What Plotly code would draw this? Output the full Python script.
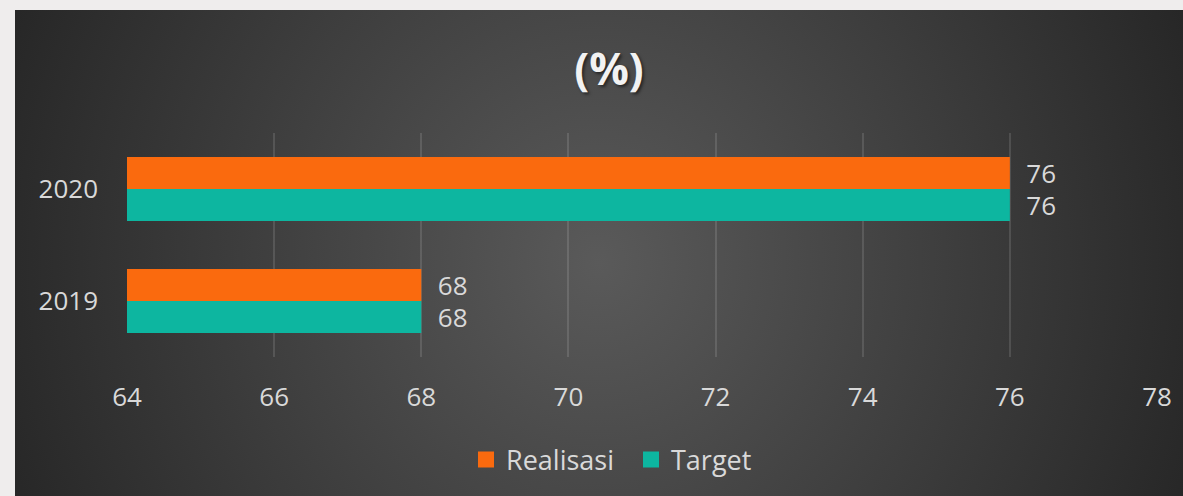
import base64
import plotly.graph_objects as go

years = ["2019", "2020"]
target = [68, 76]
realisasi = [68, 76]
x_ticks = [64, 66, 68, 70, 72, 74, 76, 78]

orange = "#fa6a0e"
teal = "#0db6a0"

# radial dark background, drawn as an svg image behind the plot
bg_svg = """<svg xmlns="http://www.w3.org/2000/svg" width="1168" height="486" viewBox="0 0 1 1" preserveAspectRatio="none">
<defs><radialGradient id="g" cx="0.5" cy="0.52" r="0.55"
 gradientTransform="translate(0.5 0.52) scale(1 2.5) translate(-0.5 -0.52)">
<stop offset="0" stop-color="#5a5a5a"/><stop offset="1" stop-color="#262626"/>
</radialGradient></defs>
<rect x="0" y="0" width="1" height="1" fill="url(#g)"/></svg>"""
bg_uri = "data:image/svg+xml;base64," + base64.b64encode(bg_svg.encode()).decode()

label_font = dict(family="Open Sans", size=26, color="#d9d9d9")

fig = go.Figure()

fig.add_trace(go.Bar(
    y=years,
    x=target,
    orientation="h",
    name="Target",
    showlegend=False,
    marker=dict(color=teal, line_width=0),
    texttemplate="\u00a0\u00a0%{x}",
    textposition="outside",
    constraintext="none",
    cliponaxis=False,
    textfont=label_font,
))

fig.add_trace(go.Bar(
    y=years,
    x=realisasi,
    orientation="h",
    name="Realisasi",
    showlegend=False,
    marker=dict(color=orange, line_width=0),
    texttemplate="\u00a0\u00a0%{x}",
    textposition="outside",
    constraintext="none",
    cliponaxis=False,
    textfont=label_font,
))

# legend entries with bigger square keys
for name, color in [("Realisasi", orange), ("Target", teal)]:
    fig.add_trace(go.Scatter(
        x=[None], y=[None],
        mode="markers",
        name=name,
        marker=dict(symbol="square", size=16, color=color),
    ))

fig.add_layout_image(
    source=bg_uri,
    xref="paper", yref="paper",
    x=(15 - 127) / 1030, y=(357 - 10) / 224,
    sizex=(1183 - 15) / 1030, sizey=(496 - 10) / 224,
    xanchor="left", yanchor="top",
    sizing="stretch",
    layer="below",
)

fig.update_layout(
    width=1183,
    height=496,
    margin=dict(l=127, r=26, t=133, b=139),
    paper_bgcolor="#efeded",
    plot_bgcolor="rgba(0,0,0,0)",
    barmode="group",
    bargap=0.43,
    bargroupgap=0,
    title=dict(
        text="<b>(%)</b>",
        x=609 / 1183,
        xanchor="center",
        y=1 - 70 / 496,
        yanchor="middle",
        font=dict(family="Open Sans", size=44, color="#f2f2f2",
                  shadow="2px 2px 3px rgba(0,0,0,0.5)"),
    ),
    font=label_font,
    showlegend=True,
    legend=dict(
        orientation="h",
        x=(466 - 127) / 1030,
        xanchor="left",
        y=(357 - 460) / 224,
        yanchor="middle",
        entrywidth=120,
        font=dict(family="Open Sans", size=27, color="#d9d9d9"),
        bgcolor="rgba(0,0,0,0)",
    ),
    xaxis=dict(
        range=[64, 78],
        tickvals=x_ticks,
        showgrid=True,
        gridcolor="rgba(255,255,255,0.12)",
        gridwidth=1.5,
        zeroline=False,
        showline=False,
        ticks="",
        ticklabelstandoff=22,
        tickfont=label_font,
    ),
    yaxis=dict(
        showgrid=False,
        zeroline=False,
        showline=False,
        ticks="",
        ticklabelstandoff=28,
        tickfont=label_font,
    ),
)

fig.write_html(
    "out.html",
    config={"displayModeBar": False},
    post_script="document.body.style.margin='0';",
)
